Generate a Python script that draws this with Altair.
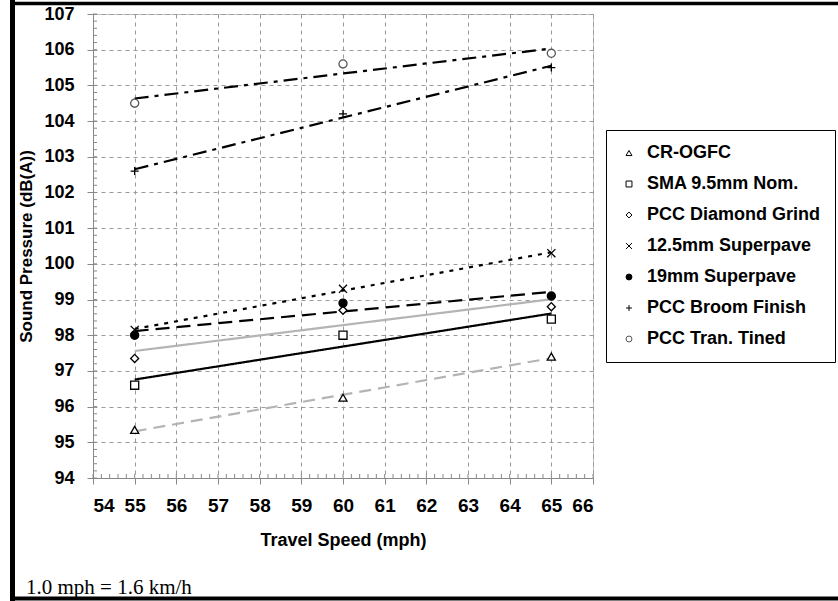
import altair as alt
import pandas as pd

# ---- data ----
speeds = [55, 60, 65]
surfaces = ["CR-OGFC", "SMA 9.5mm Nom.", "PCC Diamond Grind", "12.5mm Superpave",
            "19mm Superpave", "PCC Broom Finish", "PCC Tran. Tined"]
cr_ogfc = [95.35, 96.25, 97.4]
sma_95 = [96.6, 98.0, 98.45]
pcc_diamond = [97.35, 98.7, 98.8]
sp_125 = [98.15, 99.3, 100.3]
sp_19 = [98.0, 98.9, 99.1]
pcc_broom = [102.6, 104.2, 105.5]
pcc_tined = [104.5, 105.6, 105.9]
series_values = [cr_ogfc, sma_95, pcc_diamond, sp_125, sp_19, pcc_broom, pcc_tined]

x_ticks = list(range(54, 67))
y_ticks = list(range(94, 108))
x_minor = [round(54 + i * 0.2, 1) for i in range(61)]
y_minor = [round(94 + i * 0.2, 1) for i in range(66)]
footnote = ["1.0 mph = 1.6 km/h"]

# ---- styles ----
line_colors = ["#b4b4b4", "black", "#b4b4b4", "black", "black", "black", "black"]
line_dashes = [[12, 7], [1, 0], [1, 0], [4, 6], [14, 7], [14, 6, 4, 6], [14, 6, 4, 6]]
shapes = ["triangle-up", "square", "diamond", "M-1,-1L1,1M-1,1L1,-1", "circle",
          "M-1,0L1,0M0,-1L0,1", "circle"]
fills = ["white", "white", "white", "transparent", "black", "transparent", "white"]
strokes = ["black", "black", "black", "black", "black", "black", "#555555"]

rows = []
for name, vals in zip(surfaces, series_values):
    for s, v in zip(speeds, vals):
        rows.append({"surface": name, "speed": s, "spl": v})
df = pd.DataFrame(rows)
xminor_df = pd.DataFrame({"speed": x_minor})
yminor_df = pd.DataFrame({"spl": y_minor})

bold_font = "Liberation Sans"

xscale = alt.Scale(domain=[54, 66], nice=False, zero=False)
yscale = alt.Scale(domain=[94, 107], nice=False, zero=False)

x_axis = alt.Axis(values=x_ticks, orient="bottom", grid=True, gridDash=[4, 4],
                  gridColor="#999", domainColor="#888", tickColor="#888", tickSize=6,
                  labelFont=bold_font, labelFontSize=19, labelFontWeight="bold",
                  labelColor="black", labelPadding=12,
                  title="Travel Speed (mph)", titleFont=bold_font, titleFontSize=18,
                  titleFontWeight="bold", titleColor="black", titlePadding=16)
y_axis = alt.Axis(values=y_ticks, orient="left", grid=True, gridDash=[4, 4],
                  gridColor="#999", domainColor="#888", tickColor="#888", tickSize=6,
                  labelFont=bold_font, labelFontSize=18, labelFontWeight="bold",
                  labelColor="black", labelPadding=13,
                  title="Sound Pressure (dB(A))", titleFont=bold_font, titleFontSize=17,
                  titleFontWeight="bold", titleColor="black", titlePadding=8)

legend = alt.Legend(orient="none", legendX=513, legendY=116, strokeColor="black",
                    fillColor="white", padding=14, labelFont=bold_font, labelFontSize=18,
                    labelFontWeight="bold", labelColor="black", symbolSize=35, rowPadding=13,
                    symbolStrokeWidth=1, labelLimit=300, labelOffset=9)

# minor ticks drawn inward from the axes
minor_x = alt.Chart(xminor_df).mark_rule(color="#888", strokeWidth=1).encode(
    x=alt.X("speed:Q", scale=xscale, axis=x_axis),
    y=alt.value(464), y2=alt.value(460))
minor_y = alt.Chart(yminor_df).mark_rule(color="#888", strokeWidth=1).encode(
    y=alt.Y("spl:Q", scale=yscale, axis=y_axis),
    x=alt.value(0), x2=alt.value(4))

# trend lines: scales keyed in reverse order so they do not merge with the marker legend
rev_surfaces = surfaces[::-1]
lines = alt.Chart(df).transform_calculate(
    series="datum.surface"
).transform_regression(
    "speed", "spl", groupby=["series"]
).mark_line(strokeWidth=2.2).encode(
    x=alt.X("speed:Q", scale=xscale, axis=x_axis),
    y=alt.Y("spl:Q", scale=yscale, axis=y_axis),
    color=alt.Color("series:N", scale=alt.Scale(domain=rev_surfaces, range=line_colors[::-1]),
                    legend=None),
    strokeDash=alt.StrokeDash("series:N", scale=alt.Scale(domain=rev_surfaces, range=line_dashes[::-1]),
                              legend=None),
)

points = alt.Chart(df).mark_point(size=65, strokeWidth=1.3, opacity=1).encode(
    x=alt.X("speed:Q", scale=xscale, axis=x_axis),
    y=alt.Y("spl:Q", scale=yscale, axis=y_axis),
    shape=alt.Shape("surface:N", scale=alt.Scale(domain=surfaces, range=shapes), title=None, legend=legend),
    fill=alt.Fill("surface:N", scale=alt.Scale(domain=surfaces, range=fills), title=None, legend=legend),
    stroke=alt.Stroke("surface:N", scale=alt.Scale(domain=surfaces, range=strokes), title=None, legend=legend),
)

frame_df = pd.DataFrame({"t": footnote})
frame_left = alt.Chart(frame_df).mark_rule(color="black", strokeWidth=5).encode(
    x=alt.value(-80.5), y=alt.value(-14), y2=alt.value(587))
frame_top = alt.Chart(frame_df).mark_rule(color="black", strokeWidth=3.5).encode(
    x=alt.value(-83), x2=alt.value(745), y=alt.value(-10.5))
frame_bottom = alt.Chart(frame_df).mark_rule(color="black", strokeWidth=4).encode(
    x=alt.value(-83), x2=alt.value(745), y=alt.value(584.5))
note = alt.Chart(frame_df).mark_text(align="left", baseline="alphabetic",
                                     font="Liberation Serif", fontSize=21, color="black").encode(
    x=alt.value(-67), y=alt.value(580), text="t:N")

chart = alt.layer(minor_x, minor_y, lines, points, frame_left, frame_top, frame_bottom, note).properties(
    width=500, height=464,
    autosize=alt.AutoSizeParams(type="none"),
    padding={"left": 93, "top": 14, "right": 245, "bottom": 123},
    background="white",
).configure_view(
    stroke="#c0c0c0", strokeWidth=1
)

chart.save("out.html", embed_options={"renderer": "svg", "actions": False})
